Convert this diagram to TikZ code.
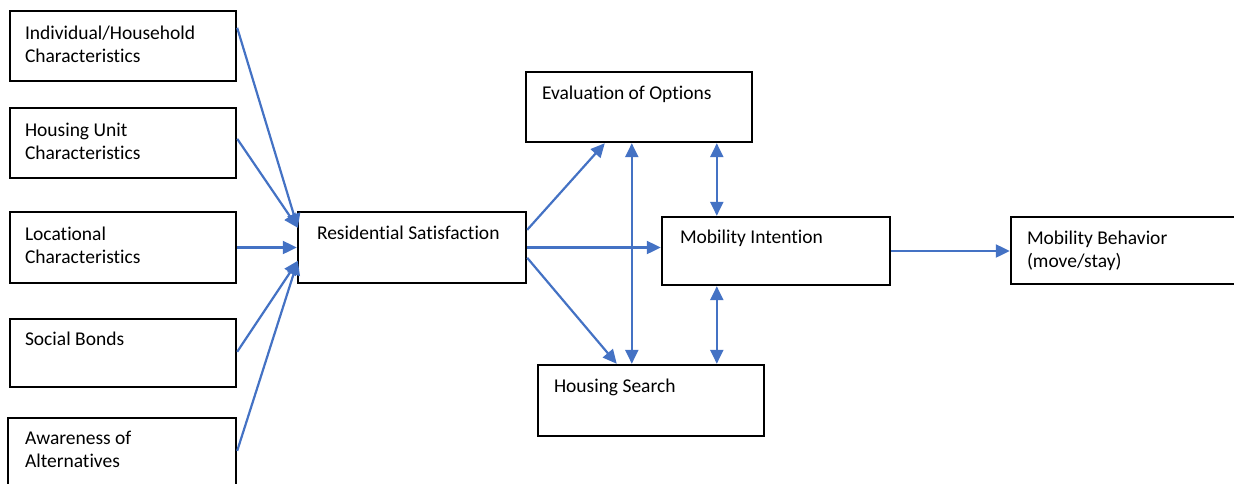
\documentclass[tikz,border=0pt]{standalone}
\usepackage{fontspec}
\setmainfont{Carlito}[Ligatures=NoCommon]
\usetikzlibrary{calc,arrows.meta}
\definecolor{flow}{HTML}{4472C4}
\begin{document}
\begin{tikzpicture}[x=1pt,y=-1pt,
  box/.style={draw=black, line width=2.4pt, fill=white, inner sep=0pt, rectangle},
  lbl/.style={anchor=base west, inner sep=0pt, align=left,
    font=\fontsize{19.5}{23.5}\selectfont},
  link/.style={draw=flow, line width=2.2pt, -{Triangle[length=14pt,width=13pt]}},
  both/.style={draw=flow, line width=2.2pt, {Triangle[length=14pt,width=13pt]}-{Triangle[length=14pt,width=13pt]}}]
\useasboundingbox (0,0) rectangle (1234,483);

% left column of factors
\node[box, minimum width=226pt, minimum height=70pt] (b1) at (123,46) {};
\node[box, minimum width=226pt, minimum height=70pt] (b2) at (123,143) {};
\node[box, minimum width=226pt, minimum height=71pt] (b3) at (123,247.5) {};
\node[box, minimum width=226pt, minimum height=68pt] (b4) at (123,353) {};
\node[box, minimum width=228pt, minimum height=72pt] (b5) at (122,454) {};

% central chain
\node[box, minimum width=228pt, minimum height=71pt] (rs) at (412,247.5) {};
\node[box, minimum width=226pt, minimum height=70pt] (ev) at (639,107) {};
\node[box, minimum width=228pt, minimum height=68pt] (mi) at (776,251) {};
\node[box, minimum width=226pt, minimum height=71pt] (hs) at (651,400.5) {};
\node[box, minimum width=229pt, minimum height=67pt] (mb) at (1125.5,250.5) {};

% labels (base anchor sits on the last line of a two-line label)
\node[lbl] (t1) at ($(b1.north west)+(16,53)$) {Individual/Household\\Characteristics};
\node[lbl] (t2) at ($(b2.north west)+(16,53)$) {Housing Unit\\Characteristics};
\node[lbl] (t3) at ($(b3.north west)+(16,53)$) {Locational\\Characteristics};
\node[lbl] (t4) at ($(b4.north west)+(16,28)$) {Social Bonds};
\node[lbl] (t5) at ($(b5.north west)+(18,51)$) {Awareness of\\Alternatives};
\node[lbl] (t6) at ($(rs.north west)+(20,29)$) {Residential Satisfaction};
\node[lbl] (t7) at ($(ev.north west)+(17,29)$) {Evaluation of Options};
\node[lbl] (t8) at ($(mi.north west)+(19,28)$) {Mobility Intention};
\node[lbl] (t9) at ($(hs.north west)+(17,29)$) {Housing Search};
\node[lbl] (t10) at ($(mb.north west)+(17,52)$) {Mobility Behavior\\(move/stay)};

% factors into satisfaction
\draw[link] ($(b1.north east)+(0,18)$) -- ($(rs.north west)+(1,17)$);
\draw[link] ($(b2.north east)+(0,32)$) -- ($(rs.north west)+(1,17)$);
\draw[link] (b3.east) -- (rs.west);
\draw[link] ($(b4.north east)+(0,34)$) -- ($(rs.north west)+(1,50)$);
\draw[link] ($(b5.north east)+(0,34)$) -- ($(rs.north west)+(1,50)$);

% satisfaction outwards
\draw[link] ($(rs.north east)+(0,19)$) -- ($(ev.south west)+(80,0)$);
\draw[link] (rs.east) -- (rs.east -| mi.west);
\draw[link] ($(rs.north east)+(0,47)$) -- ($(hs.north west)+(80,0)$);

% two-way links
\coordinate (v1) at ($(ev.south west)+(107,0)$);
\draw[both] (v1) -- (v1 |- hs.north);
\coordinate (v2) at ($(ev.south west)+(192,0)$);
\draw[both] (v2) -- (v2 |- mi.north);
\coordinate (v3) at ($(mi.south west)+(56,0)$);
\draw[both] (v3) -- (v3 |- hs.north);

% intention to behaviour
\draw[link] (mi.east) -- (mi.east -| mb.west);
\end{tikzpicture}
\end{document}
